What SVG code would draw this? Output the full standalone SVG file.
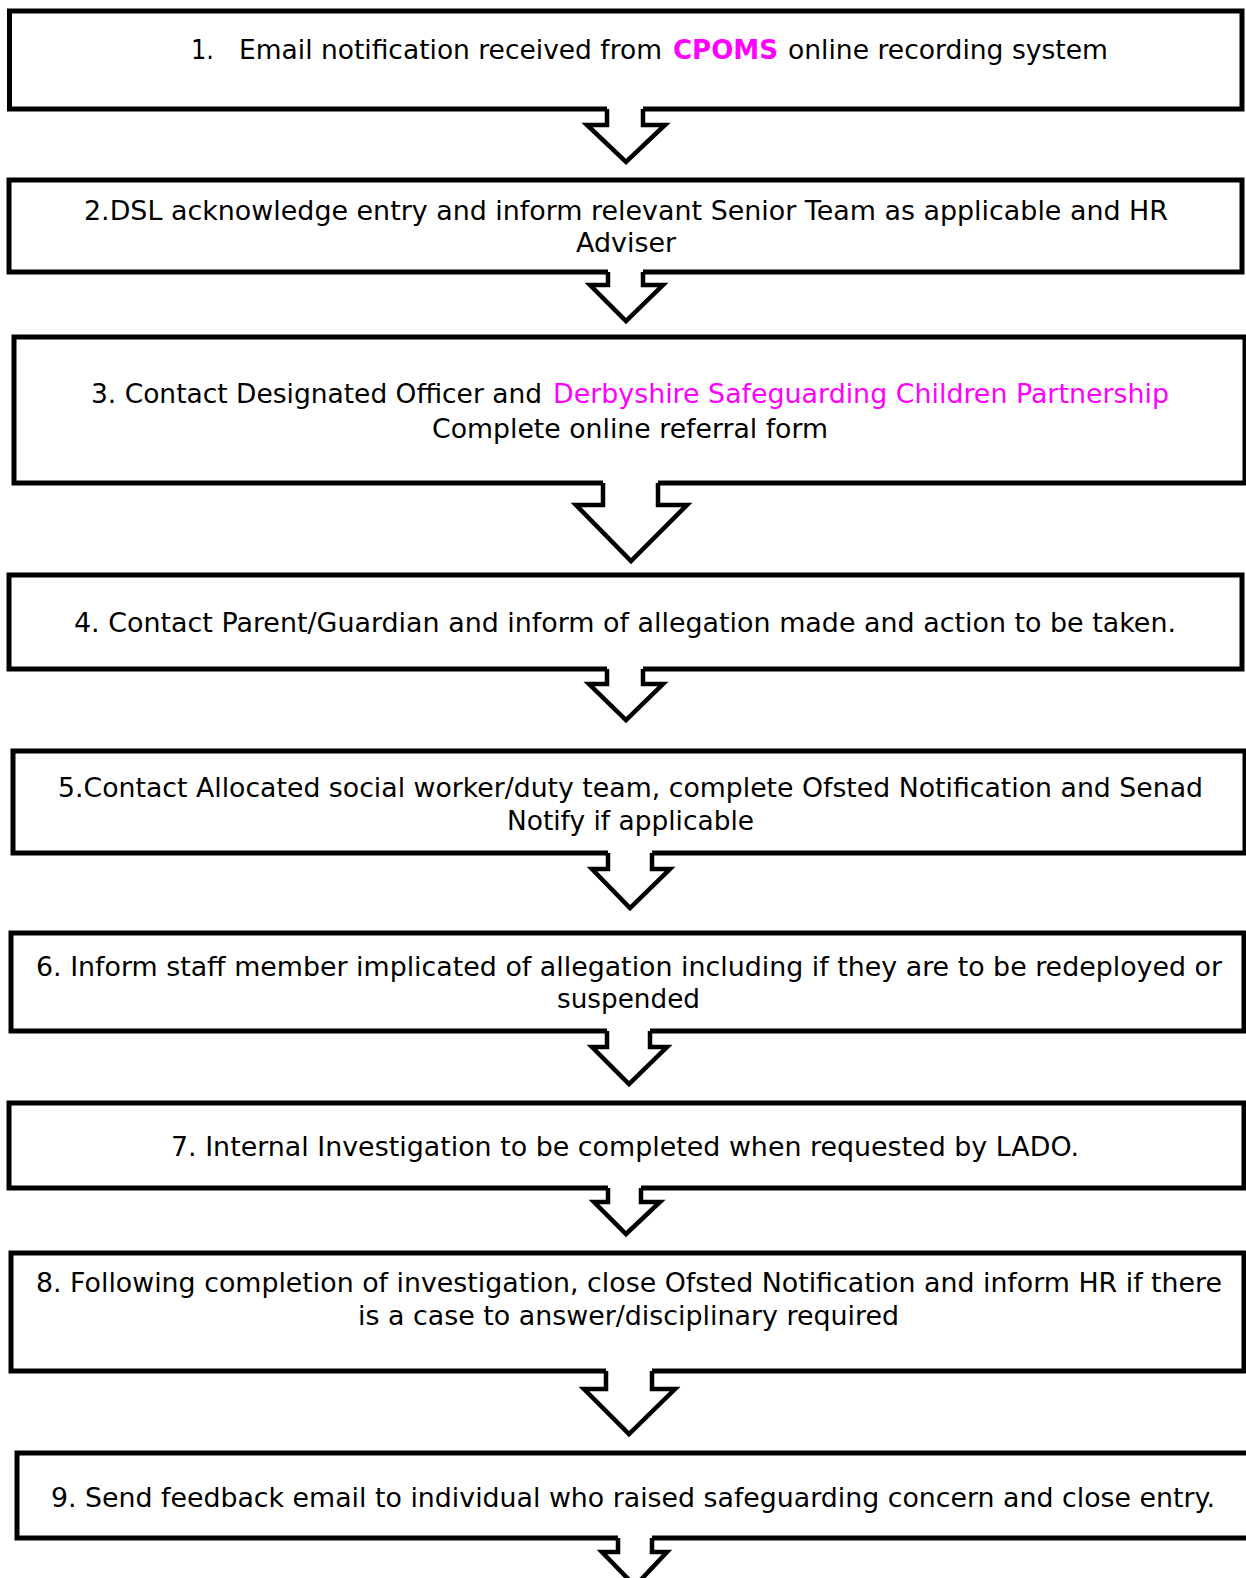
<svg xmlns="http://www.w3.org/2000/svg" width="1246" height="1578" viewBox="0 0 1246 1578">
<style>
.box{fill:#fff;stroke:#000;stroke-width:5;stroke-linejoin:miter}
.af{fill:#fff;stroke:none}
.al{fill:none;stroke:#000;stroke-width:4.5;stroke-linejoin:miter}
.t{font-family:"DejaVu Sans","Verdana",sans-serif;font-size:26px;fill:#000}
.m{fill:#FF00FF}
.b{font-weight:bold}
</style>
<defs>
<path id="a1" d="M607 109 V125 H587 L626 162 L665 125 H643 V109"/>
<path id="a2" d="M608 272 V285 H590 L626 321 L663 285 H643 V272"/>
<path id="a3" d="M603 483 V505 H576 L631 561 L687 505 H658 V483"/>
<path id="a4" d="M607 669 V684 H589 L626 720 L663 684 H643 V669"/>
<path id="a5" d="M608 853 V869 H592 L630 908 L670 869 H652 V853"/>
<path id="a6" d="M607 1031 V1047 H592 L629 1084 L667 1047 H650 V1031"/>
<path id="a7" d="M608 1188 V1202 H594 L626 1234 L660 1202 H641 V1188"/>
<path id="a8" d="M606 1371 V1389 H584 L629 1434 L675 1389 H652 V1371"/>
<path id="a9" d="M618 1538 V1552 H602 L635 1586 L667 1552 H652 V1538"/>
</defs>
<rect width="1246" height="1578" fill="#fff"/>
<g id="node1">
<rect class="box" x="9.5" y="11" width="1232.5" height="98"/>
<text class="t" x="191" y="59" textLength="23" lengthAdjust="spacingAndGlyphs">1.</text>
<text class="t" x="239" y="59" textLength="423" lengthAdjust="spacingAndGlyphs">Email notification received from</text>
<text class="t m b" x="673" y="59" textLength="105" lengthAdjust="spacingAndGlyphs">CPOMS</text>
<text class="t" x="788" y="59" textLength="320" lengthAdjust="spacingAndGlyphs">online recording system</text>
</g>
<g id="node2">
<rect class="box" x="9" y="180" width="1233" height="92"/>
<text class="t" x="84" y="220" textLength="1084" lengthAdjust="spacingAndGlyphs">2.DSL acknowledge entry and inform relevant Senior Team as applicable and HR</text>
<text class="t" x="576" y="252" textLength="100" lengthAdjust="spacingAndGlyphs">Adviser</text>
</g>
<g id="node3">
<rect class="box" x="14" y="337" width="1231" height="146"/>
<text class="t" x="91" y="403" textLength="451" lengthAdjust="spacingAndGlyphs">3. Contact Designated Officer and</text>
<text class="t m" x="553" y="403" textLength="616" lengthAdjust="spacingAndGlyphs">Derbyshire Safeguarding Children Partnership</text>
<text class="t" x="432" y="438" textLength="396" lengthAdjust="spacingAndGlyphs">Complete online referral form</text>
</g>
<g id="node4">
<rect class="box" x="9" y="575" width="1233" height="94"/>
<text class="t" x="74" y="632" textLength="1102" lengthAdjust="spacingAndGlyphs">4. Contact Parent/Guardian and inform of allegation made and action to be taken.</text>
</g>
<g id="node5">
<rect class="box" x="13" y="751" width="1232" height="102"/>
<text class="t" x="58" y="797" textLength="1145" lengthAdjust="spacingAndGlyphs">5.Contact Allocated social worker/duty team, complete Ofsted Notification and Senad</text>
<text class="t" x="507" y="830" textLength="247" lengthAdjust="spacingAndGlyphs">Notify if applicable</text>
</g>
<g id="node6">
<rect class="box" x="11" y="933" width="1233" height="98"/>
<text class="t" x="36" y="976" textLength="1186" lengthAdjust="spacingAndGlyphs">6. Inform staff member implicated of allegation including if they are to be redeployed or</text>
<text class="t" x="557" y="1008" textLength="143" lengthAdjust="spacingAndGlyphs">suspended</text>
</g>
<g id="node7">
<rect class="box" x="9" y="1103" width="1235" height="85"/>
<text class="t" x="171" y="1156" textLength="908" lengthAdjust="spacingAndGlyphs">7. Internal Investigation to be completed when requested by LADO.</text>
</g>
<g id="node8">
<rect class="box" x="11" y="1253" width="1233" height="118"/>
<text class="t" x="36" y="1292" textLength="1186" lengthAdjust="spacingAndGlyphs">8. Following completion of investigation, close Ofsted Notification and inform HR if there</text>
<text class="t" x="358" y="1325" textLength="541" lengthAdjust="spacingAndGlyphs">is a case to answer/disciplinary required</text>
</g>
<g id="node9">
<rect class="box" x="17" y="1453" width="1240" height="85"/>
<text class="t" x="51" y="1507" textLength="1164" lengthAdjust="spacingAndGlyphs">9. Send feedback email to individual who raised safeguarding concern and close entry.</text>
</g>
<g id="connectors">
<path class="af" d="M607 104 V125 H587 L626 162 L665 125 H643 V104 Z"/>
<path class="af" d="M608 267 V285 H590 L626 321 L663 285 H643 V267 Z"/>
<path class="af" d="M603 478 V505 H576 L631 561 L687 505 H658 V478 Z"/>
<path class="af" d="M607 664 V684 H589 L626 720 L663 684 H643 V664 Z"/>
<path class="af" d="M608 848 V869 H592 L630 908 L670 869 H652 V848 Z"/>
<path class="af" d="M607 1026 V1047 H592 L629 1084 L667 1047 H650 V1026 Z"/>
<path class="af" d="M608 1183 V1202 H594 L626 1234 L660 1202 H641 V1183 Z"/>
<path class="af" d="M606 1366 V1389 H584 L629 1434 L675 1389 H652 V1366 Z"/>
<path class="af" d="M618 1533 V1552 H602 L635 1586 L667 1552 H652 V1533 Z"/>
<use href="#a1" class="al"/>
<use href="#a2" class="al"/>
<use href="#a3" class="al"/>
<use href="#a4" class="al"/>
<use href="#a5" class="al"/>
<use href="#a6" class="al"/>
<use href="#a7" class="al"/>
<use href="#a8" class="al"/>
<use href="#a9" class="al"/>
</g>
</svg>
